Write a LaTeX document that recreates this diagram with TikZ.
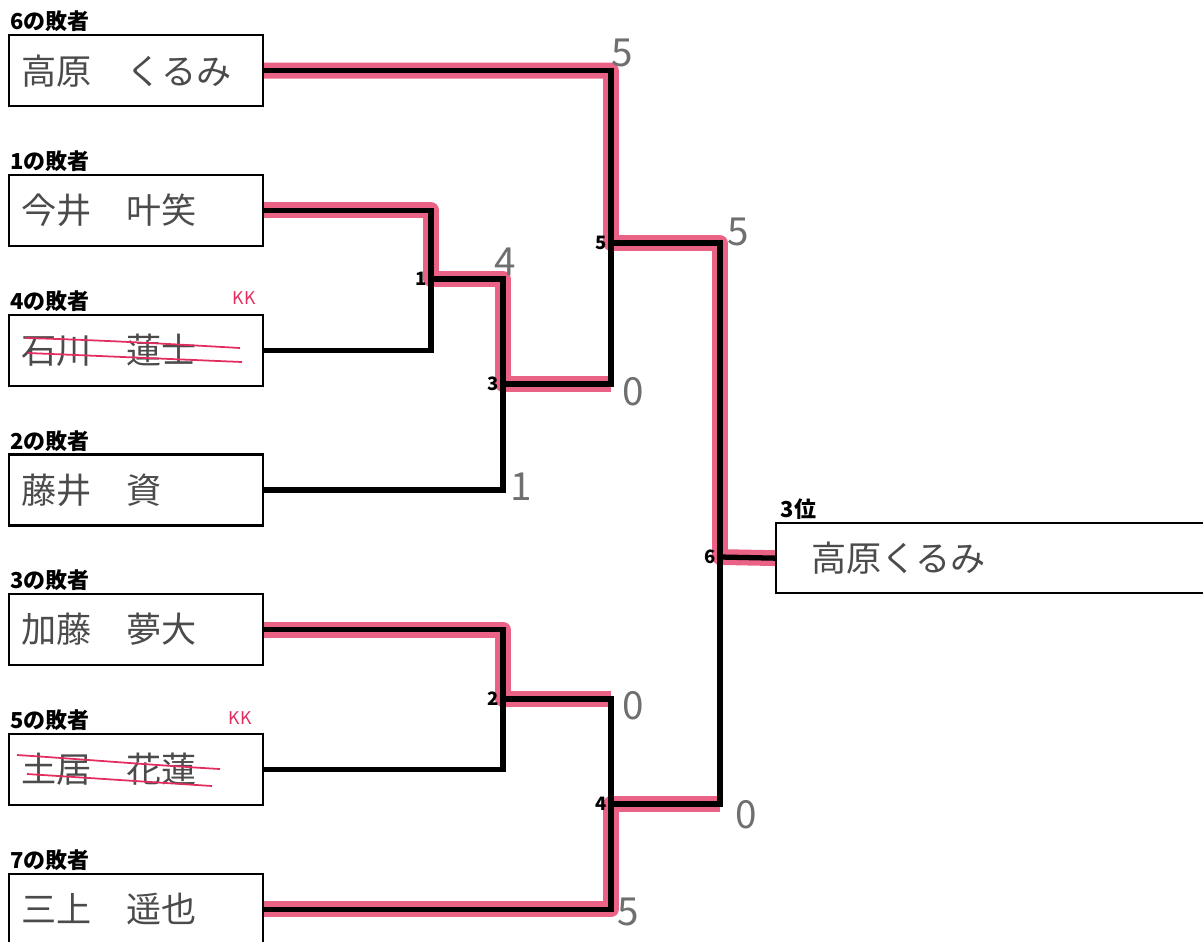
\documentclass[tikz,border=0pt]{standalone}
\usepackage{fontspec}
\newfontfamily\jpfont{Noto Sans CJK JP}
\usepackage{xcolor}
\usetikzlibrary{positioning}
\definecolor{winred}{RGB}{228,45,95}
\definecolor{pencil}{RGB}{75,75,75}

\begin{document}
\begin{tikzpicture}[%
    x=0.02cm, y=-0.02cm,
    box/.style={draw,line width=1.3pt,minimum width=5.08cm,minimum height=1.42cm,text width=4.6cm,inner xsep=.24cm,align=left,text=pencil,font=\jpfont\fontsize{20}{22}\selectfont},
    lbl/.style={inner sep=1pt,font=\jpfont\bfseries\fontsize{12.5}{13}\selectfont},
    rnd/.style={inner sep=0pt,font=\jpfont\bfseries\fontsize{10.5}{11}\selectfont},
    score/.style={inner sep=0pt,text=pencil!80,font=\jpfont\fontsize{22}{24}\selectfont},
    bracket/.style={line width=3pt,line join=miter},
    win/.style={line width=9pt,winred,opacity=.75,line join=round},
    strike/.style={winred,line width=1pt},
    kk/.style={inner sep=0pt,text=winred,font=\jpfont\fontsize{10}{11}\selectfont}
]
        \useasboundingbox (0,0) rectangle (1203,941);
        \clip (0,0) rectangle (1203,941);

        \node[box,anchor=north west] (b1) at (8,34) {高原　くるみ};
        \node[box,below=1.33cm of b1] (b2) {今井　叶笑};
        \node[box,below=1.33cm of b2] (b3) {石川　蓮士};
        \node[box,below=1.33cm of b3] (b4) {藤井　資};
        \node[box,below=1.33cm of b4] (b5) {加藤　夢大};
        \node[box,below=1.33cm of b5] (b6) {土居　花蓮};
        \node[box,below=1.33cm of b6] (b7) {三上　遥也};
        \node[box,anchor=north west,minimum width=9.5cm,minimum height=1.4cm,text width=8.1cm,inner xsep=.7cm] (w) at (775,522) {高原くるみ};

        \node[lbl,above right=0pt and 0pt of b1.north west] (l1) {6の敗者};
        \node[lbl,above right=0pt and 0pt of b2.north west] (l2) {1の敗者};
        \node[lbl,above right=0pt and 0pt of b3.north west] (l3) {4の敗者};
        \node[lbl,above right=0pt and 0pt of b4.north west] (l4) {2の敗者};
        \node[lbl,above right=0pt and 0pt of b5.north west] (l5) {3の敗者};
        \node[lbl,above right=0pt and 0pt of b6.north west] (l6) {5の敗者};
        \node[lbl,above right=0pt and 0pt of b7.north west] (l7) {7の敗者};
        \node[lbl,above right=0pt and 2pt of w.north west] (lw) {3位};

        \coordinate (q1) at (431,279);
        \coordinate (q3) at (503,384);
        \coordinate (q5) at (611,243);
        \coordinate (q2) at (503,699);
        \coordinate (q4) at (611,804);
        \coordinate (q6) at (720,557);

        \path[draw,win] (b1.east) -| (q5) -| (q6) -- (w.west);
        \path[draw,win] (b2.east) -| (q1) -| (q3) -- (q3 -| q5);
        \path[draw,win] (b5.east) -| (q2) -- (q2 -| q4);
        \path[draw,win] (b7.east) -| (q4) -- (q4 -| q6);

        \path[draw,bracket] (b2.east) -| (q1) |- (b3.east);
        \path[draw,bracket] (q1) -| (q3) |- (b4.east);
        \path[draw,bracket] (b1.east) -| (q5) |- (q3);
        \path[draw,bracket] (b5.east) -| (q2) |- (b6.east);
        \path[draw,bracket] (q2) -| (q4) |- (b7.east);
        \path[draw,bracket] (q5) -| (q6) |- (q4);
        \path[draw,bracket] (q6) -- (w.west);

        \node[rnd,left=2pt of q1] (r1) {1};
        \node[rnd,left=2pt of q2] (r2) {2};
        \node[rnd,left=2pt of q3] (r3) {3};
        \node[rnd,left=2pt of q4] (r4) {4};
        \node[rnd,left=2pt of q5] (r5) {5};
        \node[rnd,left=2pt of q6] (r6) {6};

        \node[score] (s1) at (622,53) {5};
        \node[score] (s2) at (505,262) {4};
        \node[score] (s3) at (633,392) {0};
        \node[score] (s4) at (521,487) {1};
        \node[score] (s5) at (738,232) {5};
        \node[score] (s6) at (633,706) {0};
        \node[score] (s7) at (746,815) {0};
        \node[score] (s8) at (628,912) {5};

        \draw[strike] (25,338) .. controls (100,340) and (170,344) .. (240,348);
        \draw[strike] (28,353) .. controls (100,356) and (170,359) .. (242,362);
        \draw[strike] (17,755) .. controls (80,759) and (150,765) .. (220,769);
        \draw[strike] (27,774) .. controls (90,778) and (150,782) .. (212,786);
        \node[kk] (k3) at (244,298) {KK};
        \node[kk] (k6) at (240,718) {KK};
\end{tikzpicture}
\end{document}
